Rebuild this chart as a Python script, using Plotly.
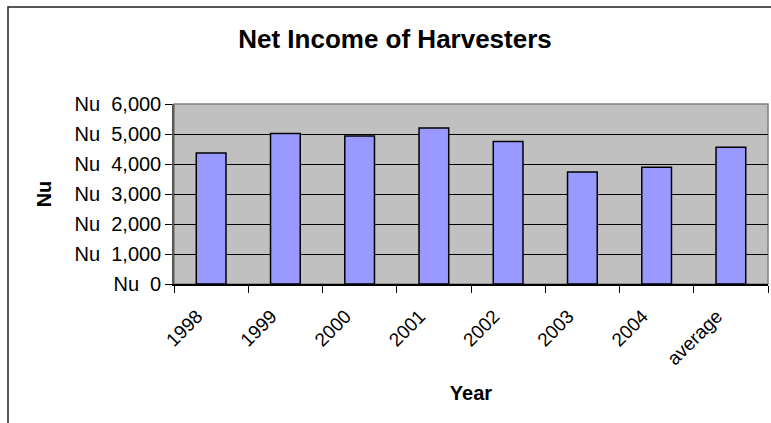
import plotly.graph_objects as go

# Net income per harvester, by year, plus the multi-year average
years = ["1998", "1999", "2000", "2001", "2002", "2003", "2004", "average"]
net_income = [4370, 5020, 4930, 5200, 4750, 3730, 3890, 4556]

y_tick_values = [0, 1000, 2000, 3000, 4000, 5000, 6000]
y_tick_labels = ["Nu\u00a0\u00a00", "Nu\u00a0\u00a01,000", "Nu\u00a0\u00a02,000",
                 "Nu\u00a0\u00a03,000", "Nu\u00a0\u00a04,000", "Nu\u00a0\u00a05,000",
                 "Nu\u00a0\u00a06,000"]

W, H = 771, 423
M_L, M_R, M_T, M_B = 174, 3, 104, 139
plot_w = W - M_L - M_R
plot_h = H - M_T - M_B

FONT = "Liberation Sans, Arial, sans-serif"

fig = go.Figure(
    go.Bar(
        x=years,
        y=net_income,
        marker=dict(color="#9999FF", line=dict(color="black", width=1.5)),
        width=0.4,
        hoverinfo="x+y",
    )
)


def px_x(px):
    return (px - M_L) / plot_w


def px_y(py):
    return (H - M_B - py) / plot_h


# outer chart-area frame (runs off the right and bottom edges)
fig.add_shape(
    type="rect", xref="paper", yref="paper",
    x0=px_x(8), x1=px_x(W + 20), y0=px_y(H + 20), y1=px_y(7),
    line=dict(color="#222222", width=1.5), fillcolor="rgba(0,0,0,0)",
    layer="below",
)

fig.update_layout(
    width=W, height=H,
    margin=dict(l=M_L, r=M_R, t=M_T, b=M_B, autoexpand=False),
    paper_bgcolor="white",
    plot_bgcolor="#C0C0C0",
    showlegend=False,
    font=dict(family=FONT, color="black", size=19),
    title=dict(
        text="<b>Net Income of Harvesters</b>",
        font=dict(size=26, family=FONT, color="black"),
        x=395 / W, xanchor="center",
        y=1 - 39 / H, yanchor="middle",
        xref="container", yref="container",
    ),
    xaxis=dict(
        type="category",
        tickson="boundaries",
        ticks="outside", ticklen=7, tickcolor="black", tickwidth=1,
        tickangle=-45,
        tickfont=dict(size=19),
        ticklabelstandoff=12,
        ticklabelshift=-14,
        showline=True, linecolor="black", linewidth=1.5,
        mirror=False,
        title=dict(text="<b>Year</b>", font=dict(size=20), standoff=18),
        showgrid=False,
    ),
    yaxis=dict(
        range=[0, 6000],
        tickvals=y_tick_values,
        ticktext=y_tick_labels,
        ticks="outside", ticklen=7, tickcolor="black", tickwidth=1,
        tickfont=dict(size=20),
        showline=True, linecolor="#555555", linewidth=1.5,
        showgrid=True, gridcolor="black", gridwidth=1,
        zeroline=False,
        title=dict(text="<b>Nu</b>", font=dict(size=20), standoff=18),
    ),
)

# thin gray border on the top and right of the plotting area
fig.add_shape(
    type="rect", xref="paper", yref="paper", x0=0, x1=1, y0=0, y1=1,
    line=dict(color="#808080", width=1.5), fillcolor="rgba(0,0,0,0)",
    layer="below",
)

fig.write_html("out.html")
